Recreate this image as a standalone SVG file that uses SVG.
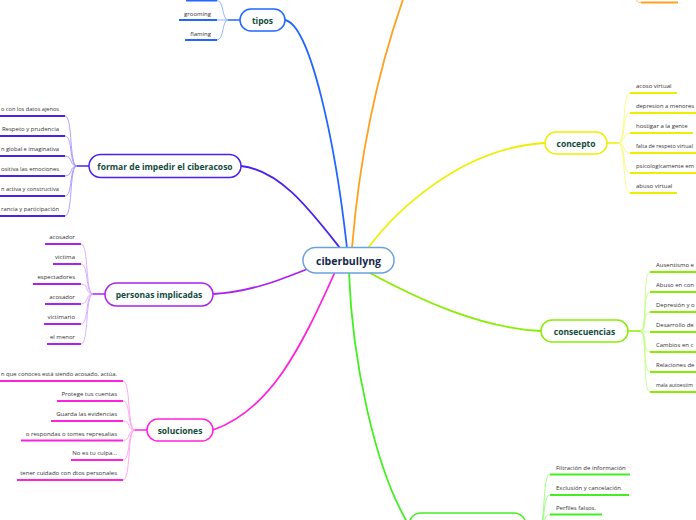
<svg xmlns="http://www.w3.org/2000/svg" width="696" height="520" viewBox="0 0 696 520">
<style>
.nd rect{fill:#fff;stroke-width:1.5}
.lbl{font-family:"Open Sans","Liberation Sans",sans-serif;font-weight:bold;font-size:8.5px;fill:#124a3c;text-anchor:middle;dominant-baseline:central}
.ct{font-family:"Open Sans","Liberation Sans",sans-serif;font-size:6px;fill:#333}
.e{text-anchor:end}
.ul{stroke-width:2;fill:none;stroke-linecap:butt}
.cc{stroke-width:0.8;fill:none}
.br{stroke-width:1.8;fill:none}
.jn{stroke-width:1.5;fill:none}
</style>
<rect width="696" height="520" fill="#fff"/>
<g id="connectors">
  <path class="br" stroke="#2266ff" d="M285,20 C310,25 335,140 347,248"/>
  <path class="br" stroke="#ffa020" d="M352,248 C360,150 380,60 410,-20"/>
  <path class="br" stroke="#eeee00" d="M368,248 C395,212 460,148 545,143"/>
  <path class="br" stroke="#4a22ee" d="M340,248 C310,210 280,170 241,166"/>
  <path class="br" stroke="#aa22ee" d="M310,268 C280,280 250,292 213,294"/>
  <path class="br" stroke="#ff22dd" d="M335,272 C300,350 270,410 213,430"/>
  <path class="br" stroke="#44ee22" d="M349,272 C352,360 375,470 409,525"/>
  <path class="br" stroke="#88ee00" d="M368,272 C420,300 480,328 541,331"/>
  <path class="jn" stroke="#2266ff" d="M228,20 H240"/>
  <g class="cc" stroke="#7aa2ff">
    <path d="M217,0.5 C224,0.5 222,20 228,20"/>
    <path d="M217,20 H228"/>
    <path d="M217,40 C224,40 222,20 228,20"/>
  </g>
  <path class="jn" stroke="#4a22ee" d="M77,166 H89"/>
  <g class="cc" stroke="#9a88ff">
    <path d="M65,116 C73,116 69,166 77,166"/>
    <path d="M65,136 C73,136 69,166 77,166"/>
    <path d="M65,156 C73,156 69,166 77,166"/>
    <path d="M65,176 C73,176 69,166 77,166"/>
    <path d="M65,196 C73,196 69,166 77,166"/>
    <path d="M65,216 C73,216 69,166 77,166"/>
  </g>
  <path class="jn" stroke="#aa22ee" d="M93,294 H105"/>
  <g class="cc" stroke="#d49aff">
    <path d="M81,244 C89,244 85,294 93,294"/>
    <path d="M81,264 C89,264 85,294 93,294"/>
    <path d="M81,284 C89,284 85,294 93,294"/>
    <path d="M81,304 C89,304 85,294 93,294"/>
    <path d="M81,324 C89,324 85,294 93,294"/>
    <path d="M81,344 C89,344 85,294 93,294"/>
  </g>
  <path class="jn" stroke="#ff22dd" d="M135,430 H147"/>
  <g class="cc" stroke="#ff94ee">
    <path d="M123,381 C131,381 127,430 135,430"/>
    <path d="M123,401 C131,401 127,430 135,430"/>
    <path d="M123,421 C131,421 127,430 135,430"/>
    <path d="M123,440.5 C131,440.5 127,430 135,430"/>
    <path d="M123,460 C131,460 127,430 135,430"/>
    <path d="M123,480 C131,480 127,430 135,430"/>
  </g>
  <path class="jn" stroke="#eeee00" d="M607,143 H618"/>
  <g class="cc" stroke="#f8f870">
    <path d="M618,143 C626,143 622,93 630,93"/>
    <path d="M618,143 C626,143 622,113 630,113"/>
    <path d="M618,143 C626,143 622,133 630,133"/>
    <path d="M618,143 C626,143 622,153 630,153"/>
    <path d="M618,143 C626,143 622,173 630,173"/>
    <path d="M618,143 C626,143 622,193 630,193"/>
  </g>
  <path class="jn" stroke="#88ee00" d="M628,331 H640"/>
  <g class="cc" stroke="#bbff77">
    <path d="M640,331 C648,331 642,272 650,272"/>
    <path d="M640,331 C648,331 642,292 650,292"/>
    <path d="M640,331 C648,331 642,312 650,312"/>
    <path d="M640,331 C648,331 642,332 650,332"/>
    <path d="M640,331 C648,331 642,352 650,352"/>
    <path d="M640,331 C648,331 642,372 650,372"/>
    <path d="M640,331 C648,331 642,392 650,392"/>
  </g>
  <g class="cc" stroke="#88ff66">
    <path d="M538,530 C546,530 542,474 550,474"/>
    <path d="M538,530 C546,530 542,495 550,495"/>
    <path d="M538,530 C546,530 542,514.5 550,514.5"/>
  </g>
  <path class="cc" stroke="#ffb040" d="M635,-3 C637,2.5 638,2.5 641,2.5"/>
</g>

<g id="center" class="nd">
  <rect x="303" y="247.5" width="91" height="25.5" rx="12.5" stroke="#6aa3dc"/>
  <text x="348.5" y="260.5" class="lbl" style="font-size:10.5px;fill:#15284a">ciberbullyng</text>
</g>

<g id="tipos" class="nd">
  <rect x="240" y="9" width="45" height="22" rx="11" stroke="#2266ff"/>
  <text x="262.5" y="20" class="lbl">tipos</text>
</g>
<g id="tipos-1"><line class="ul" stroke="#2266ff" x1="186" y1="0.5" x2="217" y2="0.5"/></g>
<g id="tipos-2"><text class="ct e" x="211" y="15.5">grooming</text><line class="ul" stroke="#2266ff" x1="179" y1="20" x2="217" y2="20"/></g>
<g id="tipos-3"><text class="ct e" x="211" y="35.5">flaming</text><line class="ul" stroke="#2266ff" x1="185" y1="40" x2="217" y2="40"/></g>

<g id="formar" class="nd">
  <rect x="89" y="154.5" width="152" height="23" rx="11.5" stroke="#4a22ee"/>
  <text x="165" y="166" class="lbl">formar de impedir el ciberacoso</text>
</g>
<g id="formar-1"><text class="ct e" x="59" y="111" textLength="58" lengthAdjust="spacingAndGlyphs">o con los datos ajenos</text><line class="ul" stroke="#4a22ee" x1="0" y1="116" x2="65" y2="116"/></g>
<g id="formar-2"><text class="ct e" x="59" y="131">Respeto y prudencia</text><line class="ul" stroke="#4a22ee" x1="0" y1="136" x2="65" y2="136"/></g>
<g id="formar-3"><text class="ct e" x="59" y="151" textLength="58" lengthAdjust="spacingAndGlyphs">n global e imaginativa</text><line class="ul" stroke="#4a22ee" x1="0" y1="156" x2="65" y2="156"/></g>
<g id="formar-4"><text class="ct e" x="59" y="171" textLength="58" lengthAdjust="spacingAndGlyphs">ositiva las emociones</text><line class="ul" stroke="#4a22ee" x1="0" y1="176" x2="65" y2="176"/></g>
<g id="formar-5"><text class="ct e" x="59" y="191" textLength="58" lengthAdjust="spacingAndGlyphs">n activa y constructiva</text><line class="ul" stroke="#4a22ee" x1="0" y1="196" x2="65" y2="196"/></g>
<g id="formar-6"><text class="ct e" x="59" y="211" textLength="58" lengthAdjust="spacingAndGlyphs">rancia y participación</text><line class="ul" stroke="#4a22ee" x1="0" y1="216" x2="65" y2="216"/></g>

<g id="personas" class="nd">
  <rect x="105" y="283" width="108" height="23" rx="11.5" stroke="#aa22ee"/>
  <text x="159" y="294.5" class="lbl">personas implicadas</text>
</g>
<g id="personas-1"><text class="ct e" x="75" y="239">acosador</text><line class="ul" stroke="#aa22ee" x1="45" y1="244" x2="81" y2="244"/></g>
<g id="personas-2"><text class="ct e" x="75" y="259">victima</text><line class="ul" stroke="#aa22ee" x1="53" y1="264" x2="81" y2="264"/></g>
<g id="personas-3"><text class="ct e" x="75" y="279">espectadores</text><line class="ul" stroke="#aa22ee" x1="33" y1="284" x2="81" y2="284"/></g>
<g id="personas-4"><text class="ct e" x="75" y="299">acosador</text><line class="ul" stroke="#aa22ee" x1="45" y1="304" x2="81" y2="304"/></g>
<g id="personas-5"><text class="ct e" x="75" y="319">victimario</text><line class="ul" stroke="#aa22ee" x1="44" y1="324" x2="81" y2="324"/></g>
<g id="personas-6"><text class="ct e" x="75" y="339">el menor</text><line class="ul" stroke="#aa22ee" x1="47" y1="344" x2="81" y2="344"/></g>

<g id="soluciones" class="nd">
  <rect x="147" y="419" width="66" height="22" rx="11" stroke="#ff22dd"/>
  <text x="180" y="430" class="lbl">soluciones</text>
</g>
<g id="soluciones-1"><text class="ct e" x="117" y="376" textLength="116" lengthAdjust="spacingAndGlyphs">n que conoces está siendo acosado, actúa.</text><line class="ul" stroke="#ff22dd" x1="0" y1="381" x2="123" y2="381"/></g>
<g id="soluciones-2"><text class="ct e" x="117" y="396">Protege tus cuentas</text><line class="ul" stroke="#ff22dd" x1="57" y1="401" x2="123" y2="401"/></g>
<g id="soluciones-3"><text class="ct e" x="117" y="416">Guarda las evidencias</text><line class="ul" stroke="#ff22dd" x1="51" y1="421" x2="123" y2="421"/></g>
<g id="soluciones-4"><text class="ct e" x="117" y="435.5">o respondas o tomes represalias</text><line class="ul" stroke="#ff22dd" x1="21" y1="440.5" x2="123" y2="440.5"/></g>
<g id="soluciones-5"><text class="ct e" x="117" y="455">No es tu culpa...</text><line class="ul" stroke="#ff22dd" x1="71" y1="460" x2="123" y2="460"/></g>
<g id="soluciones-6"><text class="ct e" x="117" y="475">tener cuidado con dtos personales</text><line class="ul" stroke="#ff22dd" x1="17" y1="480" x2="123" y2="480"/></g>

<g id="concepto" class="nd">
  <rect x="545" y="132" width="62" height="22" rx="11" stroke="#eeee00"/>
  <text x="576" y="143" class="lbl">concepto</text>
</g>
<g id="concepto-1"><text class="ct" x="636" y="88">acoso virtual</text><line class="ul" stroke="#eeee00" x1="630" y1="93" x2="677" y2="93"/></g>
<g id="concepto-2"><text class="ct" x="636" y="108" textLength="58" lengthAdjust="spacingAndGlyphs">depresion a menores</text><line class="ul" stroke="#eeee00" x1="630" y1="113" x2="696" y2="113"/></g>
<g id="concepto-3"><text class="ct" x="636" y="128">hostigar a la gente</text><line class="ul" stroke="#eeee00" x1="630" y1="133" x2="693" y2="133"/></g>
<g id="concepto-4"><text class="ct" x="636" y="148" textLength="57" lengthAdjust="spacingAndGlyphs">falta de respeto virtual</text><line class="ul" stroke="#eeee00" x1="630" y1="153" x2="696" y2="153"/></g>
<g id="concepto-5"><text class="ct" x="636" y="168" textLength="58" lengthAdjust="spacingAndGlyphs">psicologicamente em</text><line class="ul" stroke="#eeee00" x1="630" y1="173" x2="696" y2="173"/></g>
<g id="concepto-6"><text class="ct" x="636" y="188">abuso virtual</text><line class="ul" stroke="#eeee00" x1="630" y1="193" x2="677" y2="193"/></g>

<g id="consecuencias" class="nd">
  <rect x="541" y="320" width="87" height="22" rx="11" stroke="#88ee00"/>
  <text x="584.5" y="331" class="lbl">consecuencias</text>
</g>
<g id="consecuencias-1"><text class="ct" x="656" y="267">Ausentismo e</text><line class="ul" stroke="#88ee00" x1="650" y1="272" x2="696" y2="272"/></g>
<g id="consecuencias-2"><text class="ct" x="656" y="287">Abuso en con</text><line class="ul" stroke="#88ee00" x1="650" y1="292" x2="696" y2="292"/></g>
<g id="consecuencias-3"><text class="ct" x="656" y="307">Depresión y o</text><line class="ul" stroke="#88ee00" x1="650" y1="312" x2="696" y2="312"/></g>
<g id="consecuencias-4"><text class="ct" x="656" y="327">Desarrollo de</text><line class="ul" stroke="#88ee00" x1="650" y1="332" x2="696" y2="332"/></g>
<g id="consecuencias-5"><text class="ct" x="656" y="347">Cambios en c</text><line class="ul" stroke="#88ee00" x1="650" y1="352" x2="696" y2="352"/></g>
<g id="consecuencias-6"><text class="ct" x="656" y="367">Relaciones de</text><line class="ul" stroke="#88ee00" x1="650" y1="372" x2="696" y2="372"/></g>
<g id="consecuencias-7"><text class="ct" x="656" y="387" textLength="37" lengthAdjust="spacingAndGlyphs">mala autoestim</text><line class="ul" stroke="#88ee00" x1="650" y1="392" x2="696" y2="392"/></g>

<g id="green-node" class="nd">
  <rect x="409" y="513" width="117" height="30" rx="12" stroke="#44ee22"/>
</g>
<g id="green-1"><text class="ct" x="556" y="469.5">Filtración de información</text><line class="ul" stroke="#44ee22" x1="550" y1="474.5" x2="630" y2="474.5"/></g>
<g id="green-2"><text class="ct" x="556" y="490">Exclusión y cancelación.</text><line class="ul" stroke="#44ee22" x1="550" y1="495" x2="629" y2="495"/></g>
<g id="green-3"><text class="ct" x="556" y="509.5">Perfiles falsos.</text><line class="ul" stroke="#44ee22" x1="550" y1="514.5" x2="602" y2="514.5"/></g>

<g id="orange-1"><line class="ul" stroke="#ffa020" x1="641" y1="2.5" x2="678" y2="2.5"/></g>
</svg>
